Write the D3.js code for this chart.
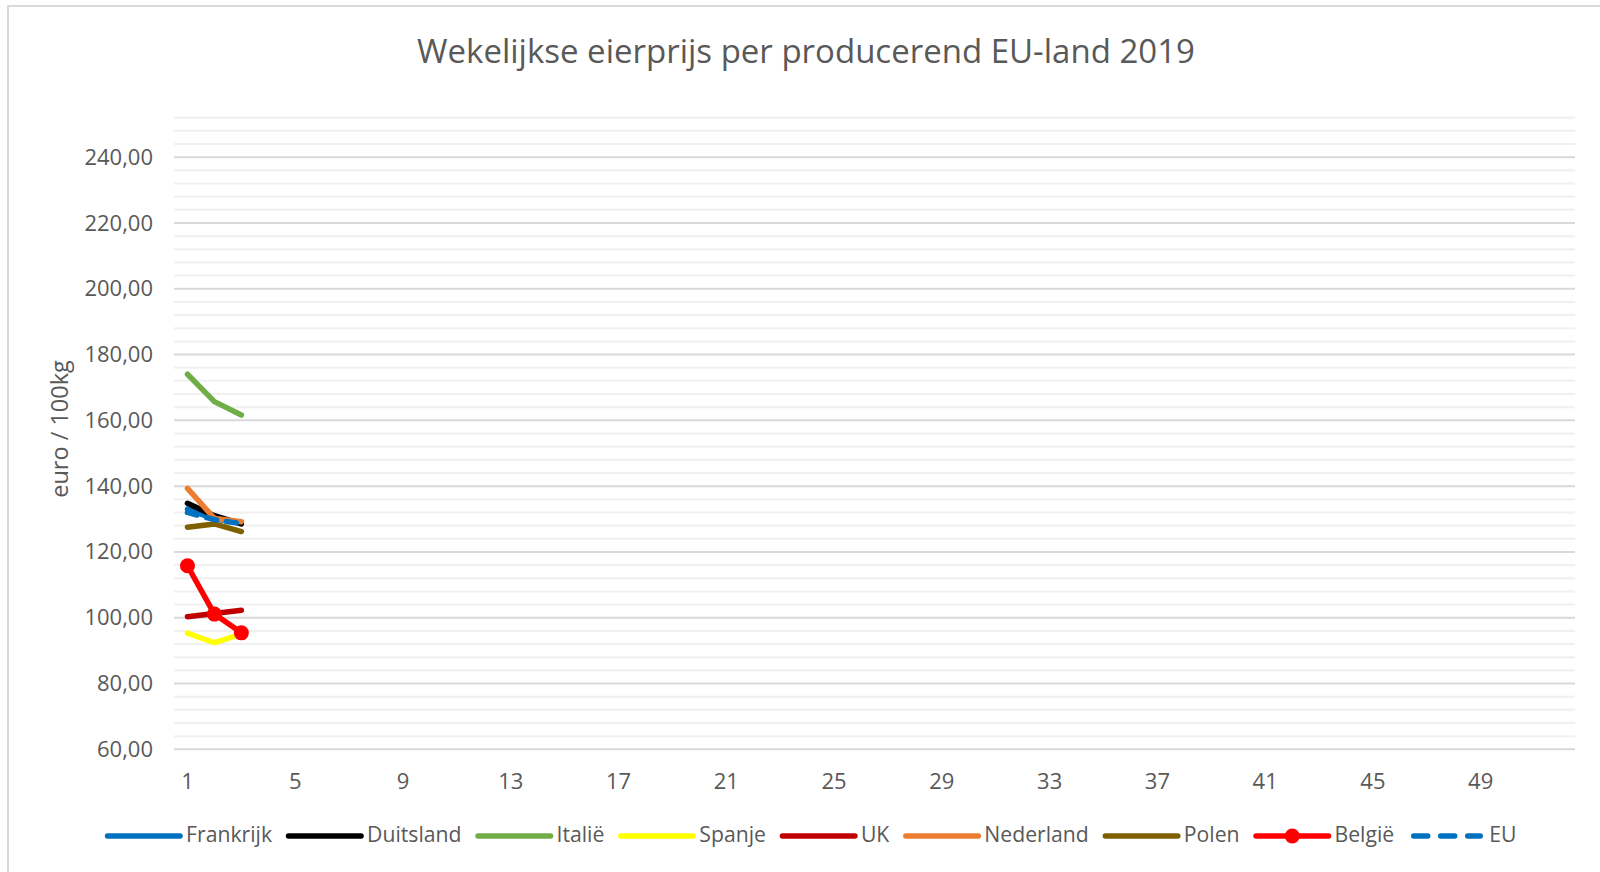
<!DOCTYPE html>
<html>
<head>
<meta charset="utf-8">
<script src="https://cdn.jsdelivr.net/npm/d3@7"></script>
<style>
  html, body { margin: 0; padding: 0; background: #fff; }
  svg { display: block; }
  text { font-family: "Open Sans", "Noto Sans", sans-serif; fill: #595959; }
</style>
</head>
<body>
<svg id="chart" width="1600" height="872"></svg>
<script>
// ---- data ----
const title = "Wekelijkse eierprijs per producerend EU-land 2019";
const yLabel = "euro / 100kg";
const weeks = d3.range(1, 53);               // categories: week 1..52
const xTickLabels = [1, 5, 9, 13, 17, 21, 25, 29, 33, 37, 41, 45, 49];
const yTicks = [60, 80, 100, 120, 140, 160, 180, 200, 220, 240];

const frankrijk  = [133.0, 130.0, 129.0];
const duitsland  = [134.8, 131.0, 128.5];
const italie     = [174.0, 165.7, 161.6];
const spanje     = [95.3, 92.4, 95.0];
const uk         = [100.3, 101.3, 102.3];
const nederland  = [139.3, 130.2, 129.2];
const polen      = [127.5, 128.5, 126.2];
const belgie     = [115.8, 101.1, 95.4];
const eu         = [132.0, 129.8, 128.6];

const seriesNames  = ["Frankrijk", "Duitsland", "Italië", "Spanje", "UK", "Nederland", "Polen", "België", "EU"];
const seriesValues = [frankrijk, duitsland, italie, spanje, uk, nederland, polen, belgie, eu];
const seriesColors = ["#0070C0", "#000000", "#70AD47", "#FFFF00", "#C00000", "#ED7D31", "#7F6000", "#FF0000", "#0070C0"];

// ---- layout ----
const svg = d3.select("#chart");
const W = 1600, H = 872;
const plot = { left: 174, right: 1575, top: 117.7, bottom: 749.3 };

// chart area border
svg.append("rect")
  .attr("x", 8).attr("y", 6).attr("width", W + 20).attr("height", H + 20)
  .attr("fill", "#fff").attr("stroke", "#d9d9d9").attr("stroke-width", 2);

const x = d3.scaleBand().domain(weeks).range([plot.left, plot.right]).padding(0);
const y = d3.scaleLinear().domain([60, 252]).range([plot.bottom, plot.top]);
const xc = d => x(d) + x.bandwidth() / 2;

// minor gridlines (every 4)
const minorTicks = d3.range(64, 253, 4).filter(v => v % 20 !== 0);
svg.append("g").selectAll("line").data(minorTicks).join("line")
  .attr("x1", plot.left).attr("x2", plot.right)
  .attr("y1", d => y(d)).attr("y2", d => y(d))
  .attr("stroke", "#f0f0f0").attr("stroke-width", 2);

// major gridlines
svg.append("g").selectAll("line").data(yTicks).join("line")
  .attr("x1", plot.left).attr("x2", plot.right)
  .attr("y1", d => y(d)).attr("y2", d => y(d))
  .attr("stroke", "#d9d9d9").attr("stroke-width", 2);

// y axis labels
const fmt = v => d3.format(".2f")(v).replace(".", ",");
const yAxis = d3.axisLeft(y).tickValues(yTicks).tickFormat(fmt).tickSize(0).tickPadding(0);
const gy = svg.append("g").attr("transform", `translate(153,0)`).call(yAxis);
gy.select(".domain").remove();
gy.selectAll("text").attr("font-size", 22).attr("fill", "#595959")
  .style("font-family", '"Open Sans", sans-serif');

// x axis labels
const xAxis = d3.axisBottom(x).tickValues(xTickLabels).tickSize(0).tickPadding(0);
const gx = svg.append("g").attr("transform", `translate(0,${plot.bottom + 33})`).call(xAxis);
gx.select(".domain").remove();
gx.selectAll("text").attr("font-size", 22).attr("fill", "#595959").attr("dy", "0.32em")
  .style("font-family", '"Open Sans", sans-serif');

// title
svg.append("text").attr("x", 806).attr("y", 54)
  .attr("text-anchor", "middle").attr("dominant-baseline", "middle")
  .attr("font-size", 33).text(title);

// y label
svg.append("text")
  .attr("transform", "translate(62,429) rotate(-90)")
  .attr("text-anchor", "middle").attr("dominant-baseline", "middle")
  .attr("font-size", 23.5).text(yLabel);

// series lines
const line = d3.line().x((d, i) => xc(weeks[i])).y(d => y(d));
const gs = svg.append("g");
seriesNames.forEach((name, si) => {
  const vals = seriesValues[si];
  const path = gs.append("path").datum(vals)
    .attr("d", line)
    .attr("fill", "none")
    .attr("stroke", seriesColors[si])
    .attr("stroke-width", 5.5)
    .attr("stroke-linejoin", "round")
    .attr("stroke-linecap", "round");
  if (name === "EU") path.attr("stroke-dasharray", "10,10");
  if (name === "België") {
    gs.append("g").selectAll("circle").data(vals).join("circle")
      .attr("cx", (d, i) => xc(weeks[i])).attr("cy", d => y(d))
      .attr("r", 7.5).attr("fill", seriesColors[si]);
  }
});

// legend
const legend = svg.append("g");
const lineLen = 72.5, textGap = 6, itemGap = 16.5, legY = 836;
let cx = 0;
seriesNames.forEach((name, si) => {
  const g = legend.append("g").attr("transform", `translate(${cx},0)`);
  const l = g.append("line").attr("x1", 0).attr("x2", lineLen).attr("y1", legY).attr("y2", legY)
    .attr("stroke", seriesColors[si]).attr("stroke-width", 5.5).attr("stroke-linecap", "round");
  if (name === "EU") l.attr("x1", 3).attr("x2", lineLen - 3).attr("stroke-dasharray", "14,13");
  if (name === "België") g.append("circle").attr("cx", lineLen / 2).attr("cy", legY).attr("r", 7.5).attr("fill", seriesColors[si]);
  const t = g.append("text").attr("x", lineLen + textGap).attr("y", legY)
    .attr("dominant-baseline", "middle").attr("font-size", 21.2).text(name);
  cx += lineLen + textGap + t.node().getComputedTextLength() + itemGap;
});
const totalW = cx - itemGap;
legend.attr("transform", `translate(${812 - totalW / 2},0)`);
</script>
</body>
</html>
